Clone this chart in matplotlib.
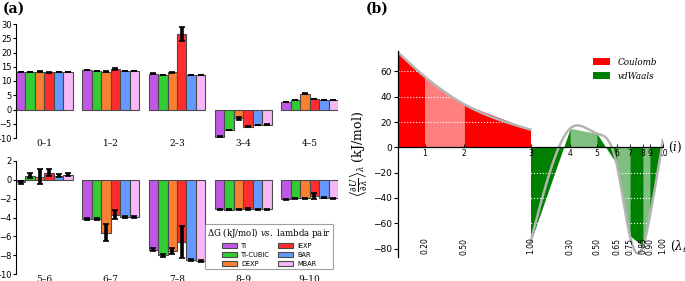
import numpy as np
import matplotlib
matplotlib.use("Agg")
import matplotlib.pyplot as plt
from matplotlib.patches import Patch

plt.rcParams['mathtext.fontset'] = 'dejavuserif'

# ---------------- data: panel (a) ----------------
pairs = ['0–1', '1–2', '2–3', '3–4', '4–5', '5–6', '6–7', '7–8', '8–9', '9–10']
methods = ['TI', 'TI-CUBIC', 'DEXP', 'IEXP', 'BAR', 'MBAR']
colors = ['#c058e6', '#33cc33', '#f98030', '#ff2d2d', '#6699ff', '#f7b8f7']

TI       = [13.2, 13.8, 12.5, -9.6, 2.7, -0.25, -4.15, -7.40, -3.13, -2.04]
TI_CUBIC = [13.2, 13.5, 12.1, -7.2, 3.4,  0.45, -4.15, -8.00, -3.20, -1.97]
DEXP     = [13.2, 13.3, 13.0, -3.1, 5.6,  0.35, -5.60, -7.55, -3.13, -1.97]
IEXP     = [13.0, 14.2, 26.4, -6.0, 3.7,  0.75, -3.70, -6.55, -3.10, -1.70]
BAR      = [13.2, 13.5, 12.2, -5.5, 3.4,  0.45, -3.95, -8.55, -3.13, -1.90]
MBAR     = [13.2, 13.5, 12.2, -5.3, 3.4,  0.55, -3.95, -8.65, -3.13, -1.97]

TI_err       = [0.10, 0.10, 0.15, 0.15, 0.10, 0.15, 0.15, 0.15, 0.05, 0.05]
TI_CUBIC_err = [0.10, 0.10, 0.15, 0.15, 0.10, 0.25, 0.15, 0.15, 0.05, 0.05]
DEXP_err     = [0.15, 0.15, 0.25, 0.60, 0.10, 0.75, 0.93, 0.30, 0.05, 0.05]
IEXP_err     = [0.10, 0.40, 2.40, 0.30, 0.15, 0.35, 0.50, 1.70, 0.10, 0.30]
BAR_err      = [0.05, 0.05, 0.05, 0.10, 0.05, 0.15, 0.10, 0.10, 0.05, 0.05]
MBAR_err     = [0.05, 0.05, 0.05, 0.10, 0.05, 0.15, 0.10, 0.10, 0.05, 0.05]

values = [TI, TI_CUBIC, DEXP, IEXP, BAR, MBAR]
errors = [TI_err, TI_CUBIC_err, DEXP_err, IEXP_err, BAR_err, MBAR_err]

# ---------------- data: panel (b) ----------------
lam_coul = [0.0, 0.2, 0.5, 1.0]
dudl_coul = [75, 56, 34, 14]
lam_vdw = [0.0, 0.3, 0.5, 0.65, 0.75, 0.85, 0.9, 1.0]
dudl_vdw = [-75, 15, 11, -13, -70, -78, -55, 6]
state_labels = ['0.20', '0.50', '1.00', '0.30', '0.50', '0.65', '0.75', '0.85', '0.90', '1.00']

# ---------------- figure ----------------
W, H = 685, 281
fig = plt.figure(figsize=(W / 100, H / 100), dpi=100)

def px_axes(x0, y_top, x1, y_bot):
    return fig.add_axes([x0 / W, 1 - y_bot / H, (x1 - x0) / W, (y_bot - y_top) / H])

axA1 = px_axes(16, 24, 338, 138)
axA2 = px_axes(16, 161, 338, 274)

serif = 'DejaVu Serif'

def draw_bars(ax, idxs, ylim, yticks):
    for gi, p in enumerate(idxs):
        for k in range(6):
            x = gi * 7 + k
            v = values[k][p]
            ax.bar(x, v, width=1.0, align='edge', color=colors[k],
                   edgecolor='#4a4a4a', linewidth=0.8, zorder=2)
            ax.errorbar(x + 0.5, v, yerr=errors[k][p], fmt='none', ecolor='black',
                        elinewidth=2.6, capsize=2.2, capthick=1.2, zorder=3)
    ax.set_xlim(0, 34)
    ax.set_ylim(*ylim)
    ax.set_yticks(yticks)
    ax.set_xticks([gi * 7 + 3 for gi in range(5)])
    ax.set_xticklabels([pairs[p] for p in idxs], fontsize=6.5, family=serif)
    ax.tick_params(axis='x', length=0, pad=1)
    ax.tick_params(axis='y', labelsize=6, length=2, width=0.8, pad=1)
    for s in ['top', 'right', 'bottom']:
        ax.spines[s].set_visible(False)
    ax.spines['left'].set_linewidth(0.8)
    ax.set_facecolor('none')

draw_bars(axA1, [0, 1, 2, 3, 4], (-10, 30), np.arange(-10, 31, 5))
draw_bars(axA2, [5, 6, 7, 8, 9], (-10, 2), np.arange(-10, 3, 2))

handles = [Patch(facecolor=c, edgecolor='#4a4a4a', linewidth=0.8) for c in colors]
leg = axA2.legend(handles, methods, ncol=2, loc='lower right', bbox_to_anchor=(0.995, 0.015),
                  fontsize=4.8, title=r'$\Delta$G (kJ/mol) $\it{vs.}$ lambda pair',
                  title_fontproperties={'family': serif, 'size': 6.2},
                  handlelength=2.3, handleheight=0.8, columnspacing=1.2,
                  labelspacing=0.45, borderpad=0.3, handletextpad=0.6,
                  frameon=True, fancybox=True, edgecolor='#888888')
leg.get_frame().set_linewidth(0.8)

fig.text(3 / W, 1 - 9 / H, '(a)', fontsize=10, fontweight='bold', family=serif, va='center')
fig.text(366 / W, 1 - 9 / H, '(b)', fontsize=10, fontweight='bold', family=serif, va='center')

# ---------------- panel (b) ----------------
axB = px_axes(398, 51.2, 663, 257.4)

def natural_spline(x, y, xs):
    x = np.asarray(x, float); y = np.asarray(y, float)
    n = len(x)
    h = np.diff(x)
    A = np.zeros((n, n)); r = np.zeros(n)
    A[0, 0] = 1; A[-1, -1] = 1
    for i in range(1, n - 1):
        A[i, i - 1] = h[i - 1]
        A[i, i] = 2 * (h[i - 1] + h[i])
        A[i, i + 1] = h[i]
        r[i] = 3 * ((y[i + 1] - y[i]) / h[i] - (y[i] - y[i - 1]) / h[i - 1])
    c = np.linalg.solve(A, r)
    b = np.zeros(n - 1); d = np.zeros(n - 1)
    for i in range(n - 1):
        b[i] = (y[i + 1] - y[i]) / h[i] - h[i] * (2 * c[i] + c[i + 1]) / 3
        d[i] = (c[i + 1] - c[i]) / (3 * h[i])
    idx = np.clip(np.searchsorted(x, xs) - 1, 0, n - 2)
    t = xs - x[idx]
    return y[idx] + b[idx] * t + c[idx] * t ** 2 + d[idx] * t ** 3

xc = np.array(lam_coul)
xv = 1.0 + np.array(lam_vdw)

for i in range(len(xc) - 1):
    axB.fill_between(xc[i:i + 2], dudl_coul[i:i + 2], 0, color='#ff0000',
                     alpha=1.0 if i % 2 == 0 else 0.5, linewidth=0, zorder=1)
for i in range(len(xv) - 1):
    axB.fill_between(xv[i:i + 2], dudl_vdw[i:i + 2], 0, color='#008000',
                     alpha=1.0 if i % 2 == 0 else 0.5, linewidth=0, zorder=1)

xs_c = np.linspace(xc[0], xc[-1], 300)
xs_v = np.linspace(xv[0], xv[-1], 400)
axB.plot(xs_c, natural_spline(xc, dudl_coul, xs_c), color='#b4b4b4', lw=1.8, zorder=2)
axB.plot(xs_v, natural_spline(xv, dudl_vdw, xs_v), color='#b4b4b4', lw=1.8, zorder=2)

axB.set_xlim(0, 2)
axB.set_ylim(-87, 76)
axB.set_yticks([-80, -60, -40, -20, 0, 20, 40, 60])
axB.yaxis.grid(True, color='white', linestyle=':', linewidth=0.8)
axB.set_axisbelow('line')
for s in ['top', 'right']:
    axB.spines[s].set_visible(False)
axB.spines['bottom'].set_position(('data', 0))
axB.spines['bottom'].set_linewidth(0.9)
axB.spines['bottom'].set_zorder(4)
axB.spines['left'].set_linewidth(0.9)
state_x = np.concatenate([xc[1:], xv[1:]])
axB.set_xticks(state_x)
axB.set_xticklabels([str(i + 1) for i in range(len(state_x))], fontsize=5.5)
axB.tick_params(axis='x', length=2.5, width=0.6, pad=1, direction='in')
axB.tick_params(axis='y', labelsize=6.5, length=3, width=0.8, pad=1.5)
for xx, lab in zip(state_x, state_labels):
    axB.text(xx, -78, lab, rotation=90, fontsize=5.5, ha='center', va='center')
axB.text(2.04, 0, r'$(i)$', fontsize=8.5, va='center', ha='left', clip_on=False)
axB.text(2.05, -78, r'$(\lambda_i)$', fontsize=8.5, va='center', ha='left', clip_on=False)
axB.set_ylabel(r'$\left\langle\frac{\partial U}{\partial\lambda}\right\rangle_{\lambda}$ (kJ/mol)',
               fontsize=9, family=serif, labelpad=2)

lh = [Patch(facecolor='#ff0000', edgecolor='none'), Patch(facecolor='#008000', edgecolor='none')]
axB.legend(lh, ['Coulomb', 'vdWaals'], loc='upper right', bbox_to_anchor=(0.99, 0.985),
           borderaxespad=0, frameon=False, prop={'family': serif, 'style': 'italic', 'size': 6.3},
           handlelength=2.0, handleheight=0.9, labelspacing=0.55, handletextpad=0.8)

fig.savefig('out.png', dpi=100)
